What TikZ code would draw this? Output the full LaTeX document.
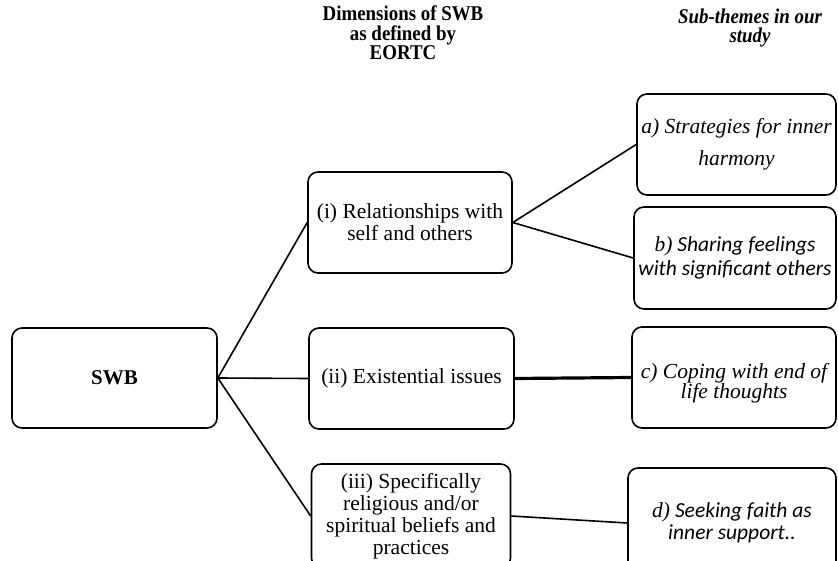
\documentclass[tikz,border=0pt]{standalone}
\usepackage{fontspec}
\setmainfont{Liberation Serif}[
	BoldFont=Liberation Serif Bold,
	ItalicFont=Liberation Serif Italic,
	BoldItalicFont=Liberation Serif Bold Italic]
\setsansfont{Carlito}
\newfontfamily\headfont{Liberation Serif}[
	FakeStretch=0.9,
	BoldFont=Liberation Serif Bold,
	BoldItalicFont=Liberation Serif Bold Italic]
\usetikzlibrary{
	positioning				% Allows relative placement
}
\newcommand{\bodysize}{\fontsize{21.5}{22}\selectfont}
\newcommand{\headsize}{\fontsize{21}{19.5}\selectfont}

\begin{document}
\begin{tikzpicture}[
		x=1pt, y=-1pt
		, theme/.style 2 args={
			draw,
			rounded corners=10pt,
			line width=1.6pt,
			align=center,
			inner sep=2pt,
			minimum width=#1,
			minimum height=#2,
			font=\bodysize
		}
		, heading/.style={align=center, font=\headfont\headsize\bfseries}
		, link/.style={line width=1.6pt}
	]
	
	% Keep the page to the size of the figure
	\clip (0,0) rectangle (838,561);
	
	% Draw the two column headings
	\node [heading] (dimhead) at (403,33) {Dimensions of SWB\\as defined by\\EORTC};
	\node [heading, font=\headfont\headsize\bfseries\itshape] (subhead) at (750,28) {Sub-themes in our\\study};
	
	% Draw the central SWB box
	\node [theme={205pt}{100pt}, font=\fontsize{21}{22}\selectfont\bfseries] (swb) at (114.5,378) {SWB};
	
	% Draw the EORTC dimensions
	\node [theme={204pt}{101pt}] (dimi) at (410,222.5) {(i) Relationships with\\self and others};
	\node [theme={205pt}{101pt}] (dimii) at (411.5,378.5) {(ii) Existential issues};
	\node [theme={199pt}{104pt}] (dimiii) at (411,516) {(iii) Specifically\\religious and/or\\spiritual beliefs and\\practices};
	
	% Draw the sub-themes of our study
	\node [theme={199pt}{101pt}, font=\bodysize\itshape] (suba) at (736.5,144.5) {a) Strategies for inner\\[10pt]harmony};
	\node [theme={202pt}{102pt}, font=\bodysize\sffamily\itshape] (subb) at (735,258) {{\rmfamily b)} Sharing feelings\\[2pt]with significant others};
	\node [theme={204pt}{101pt}, font=\bodysize\itshape] (subc) at (734,377.5) {\rule{0pt}{26pt}c) Coping with end of\\[-2pt]life thoughts};
	\node [theme={208pt}{110pt}, font=\bodysize\sffamily\itshape] (subd) at (732,523) {{\rmfamily d)} Seeking faith as\\inner support..};
	
	% Link SWB to each dimension
	\foreach \dim in {dimi,dimii,dimiii}
		\draw [link] (swb.east) -- (\dim.west);
	
	% Link each dimension to its sub-themes
	\foreach \sub in {suba,subb}
		\draw [link] (dimi.east) -- (\sub.west);
	\draw [link, line width=3.2pt] (dimii.east) -- (subc.west);
	\draw [link] (dimiii.east) -- (subd.west);
\end{tikzpicture}
\end{document}
